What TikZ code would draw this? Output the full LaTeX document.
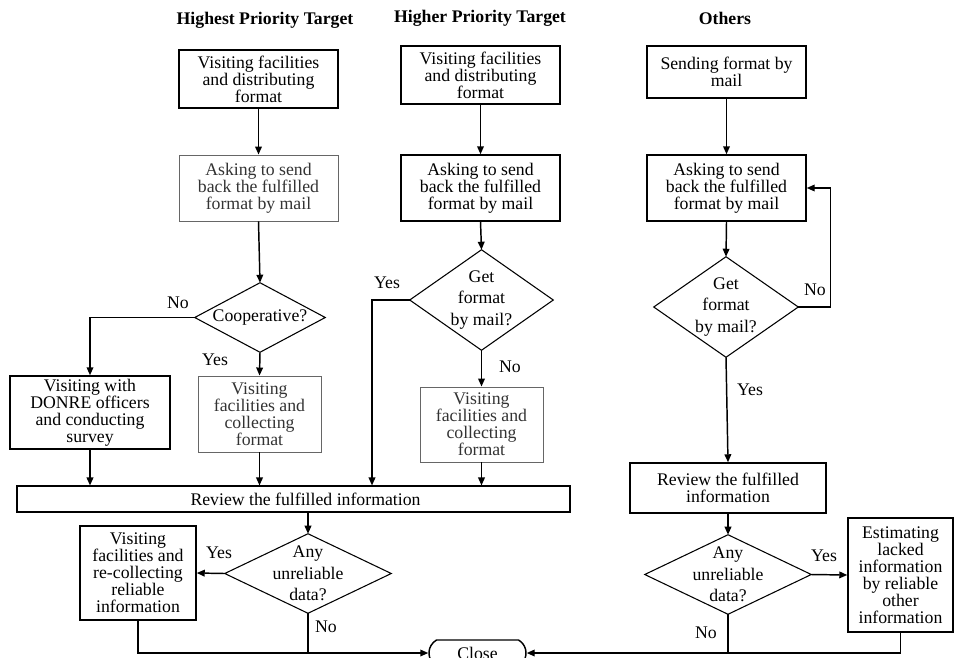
\documentclass[tikz,border=0pt]{standalone}
\usepackage{fontspec}
\setmainfont{Liberation Serif}
\usetikzlibrary{arrows.meta,shapes.misc}
\newdimen\pxu
\pxu=0.75pt
\begin{document}
\begin{tikzpicture}[x=0.75pt,y=-0.75pt,
  txt/.style={font=\fontsize{13.3}{12.75}\selectfont},
  title/.style={font=\fontsize{13.3}{14}\selectfont\bfseries},
  box/.style={txt,draw,line width=1.1pt,align=center,inner sep=0pt},
  lightbox/.style={txt,draw=black!60,text=black!80,line width=0.7pt,align=center,inner sep=0pt},
  decision/.style={font=\fontsize{13.3}{16}\selectfont,align=center,inner sep=0pt},
  diamondline/.style={line width=0.8pt},
  lbl/.style={txt,inner sep=0pt},
  flow/.style={line width=1.1pt},
  arrow/.style={flow,-{Triangle[length=6pt,width=5pt]}},
  closebox/.style={txt,draw,line width=1.1pt,rounded rectangle,rounded rectangle arc length=120,inner sep=0pt}
]
\useasboundingbox (0,0) rectangle (955,657);
\clip (0,0) rectangle (955,657);

% column titles
\node[title] (t1) at (265,20) {Highest Priority Target};
\node[title] (t2) at (480,18) {Higher Priority Target};
\node[title] (t3) at (725,18) {Others};

% ---- highest priority column ----
\node[box,minimum width=159\pxu,minimum height=58\pxu] (a1) at (258.5,79)
  {Visiting facilities\\and distributing\\format};
\node[lightbox,minimum width=159\pxu,minimum height=66\pxu] (a2) at (258.5,188)
  {Asking to send\\back the fulfilled\\format by mail};
\node[decision,minimum width=130\pxu,minimum height=69\pxu] (ad) at (260,317.5) {Cooperative?};
\draw[diamondline] (ad.north) -- (ad.east) -- (ad.south) -- (ad.west) -- cycle;
\node[box,minimum width=160\pxu,minimum height=73\pxu] (a3) at (90,412.5)
  {Visiting with\\DONRE officers\\and conducting\\survey};
\node[lightbox,minimum width=123\pxu,minimum height=76\pxu] (a4) at (259.5,414)
  {Visiting\\facilities and\\collecting\\format};

% shared review box
\node[box,line width=0.8pt,minimum width=553\pxu,minimum height=26\pxu] (rv) at (293.5,499)
  {\hspace*{24\pxu}Review the fulfilled information};

% ---- higher priority column ----
\node[box,minimum width=159\pxu,minimum height=58\pxu] (b1) at (480.5,75)
  {Visiting facilities\\and distributing\\format};
\node[box,minimum width=159\pxu,minimum height=66\pxu] (b2) at (480.5,188)
  {Asking to send\\back the fulfilled\\format by mail};
\node[decision,minimum width=143\pxu,minimum height=100\pxu] (bd) at (481.5,300)
  {Get\\format\\by mail?};
\draw[diamondline] (bd.north) -- (bd.east) -- (bd.south) -- (bd.west) -- cycle;
\node[lightbox,minimum width=123\pxu,minimum height=75\pxu] (b3) at (481.5,424.5)
  {Visiting\\facilities and\\collecting\\format};

% ---- final check, left part ----
\node[decision,minimum width=166\pxu,minimum height=79\pxu] (rd) at (308,573.5)
  {Any\\unreliable\\data?};
\draw[diamondline] (rd.north) -- (rd.east) -- (rd.south) -- (rd.west) -- cycle;
\node[box,minimum width=116\pxu,minimum height=94\pxu] (rb) at (138,573)
  {Visiting\\facilities and\\re-collecting\\reliable\\information};

% ---- others column ----
\node[box,minimum width=159\pxu,minimum height=52\pxu] (c1) at (726.5,72)
  {Sending format by\\mail};
\node[box,minimum width=159\pxu,minimum height=66\pxu] (c2) at (726.5,188)
  {Asking to send\\back the fulfilled\\format by mail};
\node[decision,minimum width=144\pxu,minimum height=100\pxu] (cd) at (726,307)
  {Get\\format\\by mail?};
\draw[diamondline] (cd.north) -- (cd.east) -- (cd.south) -- (cd.west) -- cycle;
\node[box,minimum width=196\pxu,minimum height=50\pxu] (c3) at (728,488)
  {Review the fulfilled\\information};
\node[decision,minimum width=166\pxu,minimum height=79\pxu] (ce) at (728,574.5)
  {Any\\unreliable\\data?};
\draw[diamondline] (ce.north) -- (ce.east) -- (ce.south) -- (ce.west) -- cycle;
\node[box,minimum width=105\pxu,minimum height=114\pxu] (c5) at (900.5,575)
  {Estimating\\lacked\\information\\by reliable\\other\\information};

% terminal
\node[closebox,minimum width=97\pxu,minimum height=26\pxu] (close) at (477.5,653) {Close};

% ---- connectors ----
\draw[arrow] (a1.south) -- (a2.north);
\draw[arrow] (a2.south) -- (ad.north);
\draw[arrow] (ad.west) -| (a3.north);
\draw[arrow] (ad.south) -- (a4.north);
\draw[arrow] (a3.south) -- (a3.south |- rv.north);
\draw[arrow] (a4.south) -- (a4.south |- rv.north);

\draw[arrow] (b1.south) -- (b2.north);
\draw[arrow] (b2.south) -- (bd.north);
\coordinate (byes) at (372,300);
\draw[arrow] (bd.west) -- (byes) -- (byes |- rv.north);
\draw[arrow] (bd.south) -- (b3.north);
\draw[arrow] (b3.south) -- (b3.south |- rv.north);

\draw[arrow] (rd.north |- rv.south) -- (rd.north);
\draw[arrow] (rd.west) -- (rb.east);
\draw[flow] (rd.south) -- (rd.south |- close.west);
\draw[arrow] (rb.south) |- (close.west);

\draw[arrow] (c1.south) -- (c2.north);
\draw[arrow] (c2.south) -- (cd.north);
\draw[arrow] (cd.east) -- ++(32,0) |- (c2.east);
\draw[arrow] (cd.south) -- (c3.north);
\draw[arrow] (c3.south) -- (ce.north);
\draw[arrow] (ce.east) -- (c5.west);
\draw[flow] (ce.south) -- (ce.south |- close.east);
\draw[arrow] (c5.south) |- (close.east);

% branch labels
\node[lbl] (l1) at (178,303) {No};
\node[lbl] (l2) at (215,360) {Yes};
\node[lbl] (l3) at (387,283) {Yes};
\node[lbl] (l4) at (510,367) {No};
\node[lbl] (l5) at (815,290) {No};
\node[lbl] (l6) at (750,390) {Yes};
\node[lbl] (l7) at (219,553) {Yes};
\node[lbl] (l8) at (326,627) {No};
\node[lbl] (l9) at (824,556) {Yes};
\node[lbl] (l10) at (706,633) {No};
\end{tikzpicture}
\end{document}
